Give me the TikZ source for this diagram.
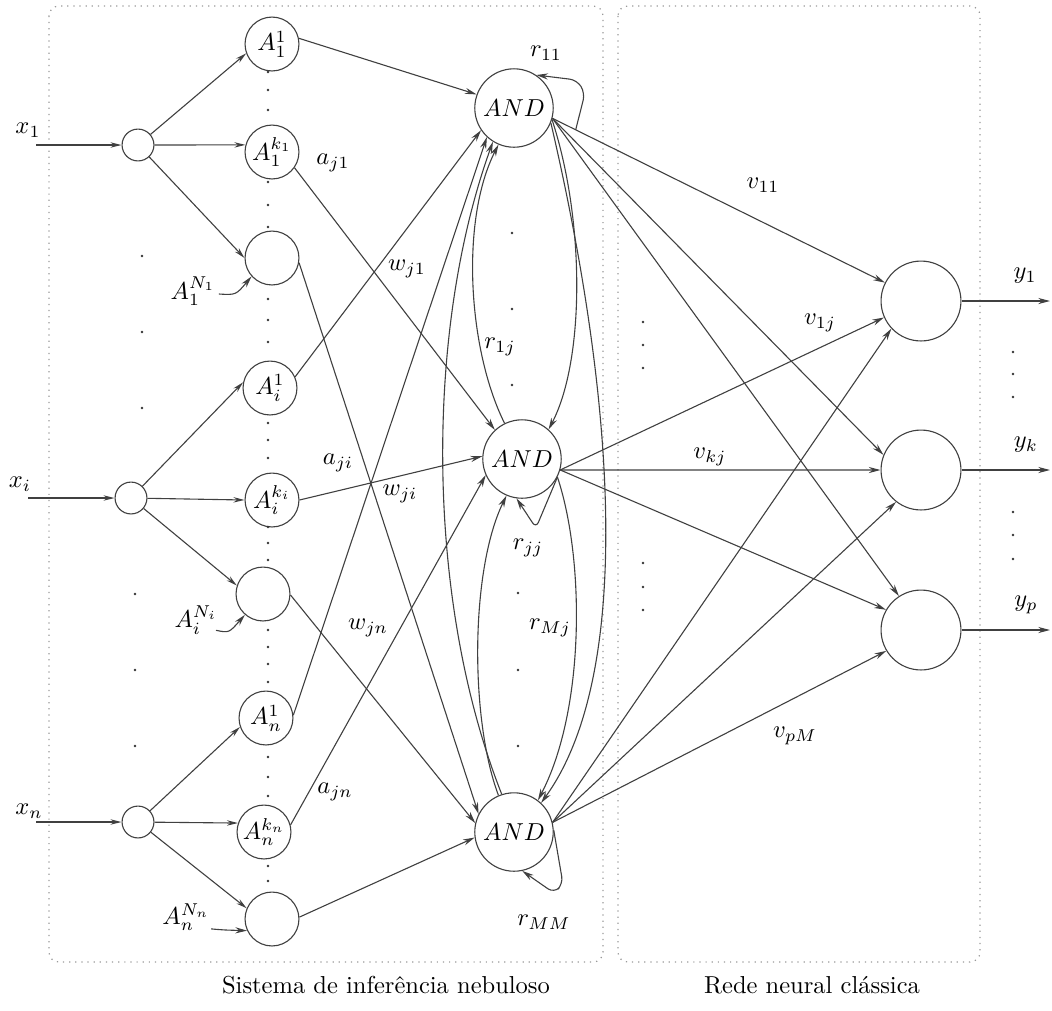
\documentclass[tikz,border=0pt]{standalone}
\usetikzlibrary{arrows.meta,calc}
\begin{document}
\begin{tikzpicture}[x=0.408pt,y=-0.408pt,
  line width=0.45pt,
  ln/.style={draw=black!75},
  tip/.style={-{Stealth[length=4.8pt,width=2.5pt]}},
  otip/.style={-{Stealth[open,length=4.5pt,width=2.2pt]}},
  inp/.style={circle,draw=black!75,minimum size=13pt,inner sep=0pt},
  fz/.style={circle,draw=black!75,minimum size=22pt,inner sep=0pt},
  andn/.style={circle,draw=black!75,minimum size=32pt,inner sep=0pt},
  outn/.style={circle,draw=black!75,minimum size=32.6pt,inner sep=0pt},
  lbl/.style={inner sep=0pt},
  frame/.style={draw=black!40,dotted,rounded corners=4pt,line width=0.5pt},
  dot/.style={fill=black!80},
]
\useasboundingbox (0,0) rectangle (1052,1010);

% two dotted panels and their captions
\draw[frame] (49,6) rectangle (603,962);
\draw[frame] (618,6) rectangle (980,962);
\node[lbl] (capL) at (386,985) {Sistema de inferência nebuloso};
\node[lbl] (capR) at (812,985) {Rede neural clássica};

% input neurons
\node[inp] (c1) at (138,145) {};
\node[inp] (ci) at (131,498) {};
\node[inp] (cn) at (138,822) {};

% membership functions
\node[fz] (A11) at (272,44)  {$A_1^1$};
\node[fz] (A1k) at (272,152) {$A_1^{k_1}$};
\node[fz] (A1N) at (272,258) {};
\node[fz] (Ai1) at (270,388) {$A_i^1$};
\node[fz] (Aik) at (272,500) {$A_i^{k_i}$};
\node[fz] (AiN) at (263,594) {};
\node[fz] (An1) at (266,718) {$A_n^1$};
\node[fz] (Ank) at (264,832) {$A_n^{k_n}$};
\node[fz] (AnN) at (272,919) {};

% rule neurons
\node[andn] (a1) at (514,108) {$AND$};
\node[andn] (aj) at (522,459) {$AND$};
\node[andn] (aM) at (514,832) {$AND$};

% output neurons
\node[outn] (o1) at (921,301) {};
\node[outn] (ok) at (921,470) {};
\node[outn] (op) at (921,630) {};

% inputs
\coordinate (x1s) at (36,145);
\coordinate (xis) at (28,498);
\coordinate (xns) at (36,822);
\draw[ln,otip] (x1s) -- (c1);
\draw[ln,otip] (xis) -- (ci);
\draw[ln,otip] (xns) -- (cn);
\node[lbl] (lx1) at (28,130) {$x_1$};
\node[lbl] (lxi) at (20,484) {$x_i$};
\node[lbl] (lxn) at (29,811) {$x_n$};

% fuzzification
\draw[ln,otip] (c1) -- (A11.200);
\draw[ln,otip] (c1) -- (A1k.165);
\draw[ln,otip] (c1) -- (A1N.180);
\draw[ln,otip] (ci) -- (Ai1.168);
\draw[ln,otip] (ci) -- (Aik.180);
\draw[ln,otip] (ci) -- (AiN.162);
\draw[ln,otip] (cn) -- (An1.199);
\draw[ln,otip] (cn) -- (Ank.161);
\draw[ln,otip] (cn) -- (AnN.157);

% names of the last membership functions
\node[lbl] (lN1) at (193,291) {$A_1^{N_1}$};
\node[lbl] (lNi) at (196,620) {$A_i^{N_i}$};
\node[lbl] (lNn) at (186,917) {$A_n^{N_n}$};
\draw[ln,tip] ($(lN1.east)+(3,3)$) .. controls (236,295) .. (A1N.222);
\draw[ln,tip] ($(lNi.south east)+(-2,-5)$) .. controls (229,633) .. (AiN.229);
\draw[ln,tip] ($(lNn.south east)+(1,-2)$) .. controls (224,930) .. (AnN.205);

% antecedents to rules
\draw[ln,tip] (A11.12)  -- (a1.160);
\draw[ln,tip] (A1k.-35) -- (aj.133);
\draw[ln,tip] (A1N.-10) -- (aM.153);
\draw[ln,tip] (Ai1.24)  -- (a1.214);
\draw[ln,tip] (Aik.0)   -- (aj.176);
\draw[ln,tip] (AiN.-2)  -- (aM.167);
\draw[ln,tip] (An1.6)   -- (a1.227);
\draw[ln,tip] (Ank.15)  -- (aj.204);
\draw[ln,tip] (AnN.4)   -- (aM.188);

\node[lbl] (laj1) at (333,163) {$a_{j1}$};
\node[lbl] (lwj1) at (407,269) {$w_{j1}$};
\node[lbl] (laji) at (338,463) {$a_{ji}$};
\node[lbl] (lwji) at (400,494) {$w_{ji}$};
\node[lbl] (lwjn) at (368,628) {$w_{jn}$};
\node[lbl] (lajn) at (335,792) {$a_{jn}$};

% recurrent links between rules
\draw[ln,tip] (aj.116) .. controls (468,350) and (460,220) .. (a1.247);
\draw[ln,tip] (aM.108) .. controls (425,600) and (425,330) .. (a1.238);
\draw[ln,tip] (aM.113) .. controls (470,720) and (470,570) .. (aj.247);
\draw[ln,tip] (a1.-17) .. controls (585,220) and (585,360) .. (aj.48);
\draw[ln,tip] (a1.-22) .. controls (620,420) and (630,680) .. (aM.47);
\draw[ln,tip] (aj.-27) .. controls (585,560) and (585,710) .. (aM.53);
\coordinate (r11s) at ($(a1.-15)!0.07!(o1.153)$);
\draw[ln,tip,rounded corners=3pt] (r11s) -- (585,93) -- (577,80) -- (a1.56);
\draw[ln,tip,rounded corners=2.5pt] (aj.-27) -- (536,528) -- (aj.262);
\draw[ln,tip,rounded corners=3pt] (aM.3) -- (563,884) -- (554,893) -- (aM.-78);

\node[lbl] (lr11) at (546,53)  {$r_{11}$};
\node[lbl] (lr1j) at (500,347) {$r_{1j}$};
\node[lbl] (lrjj) at (528,548) {$r_{jj}$};
\node[lbl] (lrMj) at (550,628) {$r_{Mj}$};
\node[lbl] (lrMM) at (544,922) {$r_{MM}$};

% rules to outputs
\draw[ln,tip] (a1.-15) -- (o1.153);
\draw[ln,tip] (a1.-15) -- (ok.158);
\draw[ln,tip] (a1.-15) -- (op.123);
\draw[ln,tip] (aj.-16) -- (o1.204);
\draw[ln,tip] (aj.-16) -- (ok.180);
\draw[ln,tip] (aj.-16) -- (op.150);
\draw[ln,tip] (aM.14) -- (o1.223);
\draw[ln,tip] (aM.14) -- (ok.232);
\draw[ln,tip] (aM.14) -- (op.211);

\node[lbl] (lv11) at (763,185) {$v_{11}$};
\node[lbl] (lv1j) at (820,323) {$v_{1j}$};
\node[lbl] (lvkj) at (710,457) {$v_{kj}$};
\node[lbl] (lvpM) at (795,736) {$v_{pM}$};

% outputs
\coordinate (y1e) at (1050,301);
\coordinate (yke) at (1050,470);
\coordinate (ype) at (1050,630);
\draw[ln,tip] (o1) -- (y1e);
\draw[ln,tip] (ok) -- (yke);
\draw[ln,tip] (op) -- (ype);
\node[lbl] (ly1) at (1025,276) {$y_1$};
\node[lbl] (lyk) at (1026,445) {$y_k$};
\node[lbl] (lyp) at (1026,605) {$y_p$};

% ellipsis dots
\foreach \p in {(142,256),(142,332),(142,408),(135,594),(135,670),(135,746),
  (268,72),(268,90),(268,110),(268,182),(268,205),(268,227),
  (268,299),(268,320),(268,342),(268,423),(268,440),(268,458),
  (268,527),(268,543),(268,560),(268,630),(268,647),(268,664),(268,682),
  (268,757),(268,777),(268,796),(268,866),(268,881),
  (512,233),(512,309),(512,385),(518,593),(518,670),(518,746),
  (643,322),(643,345),(643,368),(643,563),(643,587),(643,610),
  (1013,352),(1013,374),(1013,397),(1013,512),(1013,535),(1013,559)}
  \fill[dot] \p circle[radius=0.55pt];
\end{tikzpicture}
\end{document}
